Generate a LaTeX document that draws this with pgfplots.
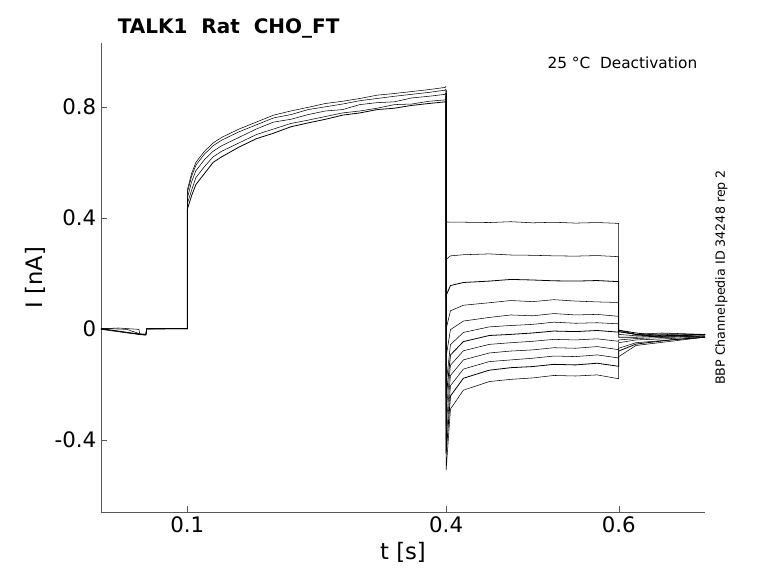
\documentclass[border=0pt]{standalone}
\usepackage{pgfplots}
\pgfplotsset{compat=1.18}
\usepackage{fontspec}
\setmainfont{DejaVu Sans}
\setsansfont{DejaVu Sans}
\begin{document}
\begin{tikzpicture}
\begin{axis}[name=ax, scale only axis, width=453pt, height=351.75pt,
  xmin=0, xmax=0.7, ymin=-0.66, ymax=1.03,
  axis lines=left, axis line style={-, gray!70!black}, tick style={gray!70!black},
  tick align=inside,
  /pgf/number format/assume math mode=true,
  xtick={0.1,0.4,0.6}, xticklabels={0.1,0.4,0.6},
  ytick={-0.4,0,0.4,0.8}, yticklabels={-0.4,0,0.4,0.8},
  tick label style={font=\fontsize{16}{18}\selectfont},
  xlabel={t [s]}, ylabel={I [nA]},
  label style={font=\fontsize{17}{19}\selectfont},
  cycle list={{black, solid, mark=none, line width=0.6pt}},
  clip=false]
% activation traces
\addplot coordinates {(0,0)(0.02,0.003)(0.044,-0.002)(0.045,-0.02)(0.052,-0.022)(0.053,0)(0.08,0.002)(0.1,0)(0.1,0.47)(0.105,0.53)(0.11,0.57)(0.12,0.61)(0.13,0.64)(0.14,0.66)(0.16,0.69)(0.18,0.72)(0.2,0.745)(0.22,0.755)(0.24,0.772)(0.26,0.785)(0.28,0.79)(0.3,0.808)(0.32,0.815)(0.34,0.818)(0.36,0.832)(0.38,0.838)(0.399,0.845)(0.4,0.85)};
\addplot coordinates {(0,0.002)(0.03,-0.002)(0.045,-0.018)(0.052,-0.02)(0.053,0.001)(0.1,0.001)(0.1,0.45)(0.105,0.5)(0.11,0.545)(0.12,0.585)(0.13,0.62)(0.14,0.64)(0.16,0.67)(0.18,0.7)(0.2,0.72)(0.22,0.74)(0.24,0.752)(0.26,0.765)(0.28,0.778)(0.3,0.785)(0.32,0.795)(0.34,0.808)(0.36,0.81)(0.38,0.82)(0.399,0.825)(0.4,0.83)};
\addplot coordinates {(0,-0.002)(0.045,-0.021)(0.052,-0.023)(0.053,-0.001)(0.1,0)(0.1,0.49)(0.105,0.55)(0.11,0.59)(0.12,0.63)(0.13,0.66)(0.14,0.68)(0.16,0.71)(0.18,0.735)(0.2,0.76)(0.22,0.772)(0.24,0.79)(0.26,0.8)(0.28,0.81)(0.3,0.822)(0.32,0.83)(0.34,0.838)(0.36,0.845)(0.38,0.852)(0.399,0.86)(0.4,0.865)};
\addplot coordinates {(0,0)(0.045,-0.019)(0.052,-0.02)(0.053,0)(0.1,0)(0.1,0.43)(0.105,0.48)(0.11,0.52)(0.12,0.56)(0.13,0.6)(0.14,0.62)(0.16,0.655)(0.18,0.685)(0.2,0.705)(0.22,0.728)(0.24,0.742)(0.26,0.755)(0.28,0.77)(0.3,0.778)(0.32,0.79)(0.34,0.795)(0.36,0.805)(0.38,0.812)(0.399,0.818)(0.4,0.82)};
\addplot coordinates {(0,0.001)(0.045,-0.02)(0.052,-0.02)(0.053,0)(0.1,0.002)(0.1,0.5)(0.105,0.56)(0.11,0.6)(0.12,0.64)(0.13,0.67)(0.14,0.69)(0.16,0.72)(0.18,0.745)(0.2,0.77)(0.22,0.785)(0.24,0.798)(0.26,0.812)(0.28,0.82)(0.3,0.83)(0.32,0.842)(0.34,0.848)(0.36,0.855)(0.38,0.862)(0.399,0.87)(0.4,0.875)};
% deactivation traces
\addplot coordinates {(0.4,0.85)(0.4,0.385)(0.45,0.383)(0.475,0.386)(0.5,0.382)(0.525,0.384)(0.55,0.381)(0.575,0.383)(0.6,0.38)(0.6,-0.01)(0.62,-0.02)(0.65,-0.015)(0.7,-0.02)};
\addplot coordinates {(0.4,0.85)(0.4,0.25)(0.405,0.263)(0.42,0.267)(0.45,0.27)(0.475,0.266)(0.5,0.265)(0.525,0.263)(0.55,0.262)(0.575,0.264)(0.6,0.26)(0.6,-0.01)(0.62,-0.02)(0.66,-0.018)(0.7,-0.022)};
\addplot coordinates {(0.4,0.84)(0.4,0.12)(0.405,0.156)(0.42,0.167)(0.45,0.172)(0.475,0.178)(0.5,0.176)(0.525,0.173)(0.55,0.172)(0.575,0.174)(0.6,0.17)(0.6,-0.005)(0.62,-0.015)(0.65,-0.025)(0.7,-0.02)};
\addplot coordinates {(0.4,0.83)(0.4,0.0)(0.405,0.065)(0.42,0.085)(0.45,0.094)(0.475,0.102)(0.5,0.098)(0.525,0.105)(0.55,0.1)(0.575,0.097)(0.6,0.095)(0.6,-0.005)(0.62,-0.02)(0.66,-0.03)(0.7,-0.025)};
\addplot coordinates {(0.4,0.86)(0.4,-0.1)(0.405,-0.003)(0.42,0.028)(0.45,0.041)(0.475,0.05)(0.5,0.047)(0.525,0.055)(0.55,0.05)(0.575,0.052)(0.6,0.045)(0.6,-0.01)(0.62,-0.02)(0.65,-0.03)(0.7,-0.02)};
\addplot coordinates {(0.4,0.84)(0.4,-0.2)(0.405,-0.057)(0.42,-0.013)(0.45,0.007)(0.475,0.012)(0.5,0.016)(0.525,0.024)(0.55,0.02)(0.575,0.022)(0.6,0.018)(0.6,-0.02)(0.62,-0.025)(0.66,-0.02)(0.7,-0.03)};
\addplot coordinates {(0.4,0.85)(0.4,-0.25)(0.405,-0.094)(0.42,-0.046)(0.45,-0.024)(0.475,-0.02)(0.5,-0.015)(0.525,-0.008)(0.55,-0.01)(0.575,-0.006)(0.6,-0.012)(0.6,-0.03)(0.62,-0.03)(0.66,-0.025)(0.7,-0.02)};
\addplot coordinates {(0.4,0.82)(0.4,-0.3)(0.405,-0.131)(0.42,-0.079)(0.45,-0.056)(0.475,-0.05)(0.5,-0.045)(0.525,-0.038)(0.55,-0.04)(0.575,-0.036)(0.6,-0.045)(0.6,-0.04)(0.62,-0.035)(0.66,-0.03)(0.7,-0.025)};
\addplot coordinates {(0.4,0.85)(0.4,-0.35)(0.405,-0.168)(0.42,-0.112)(0.45,-0.087)(0.475,-0.08)(0.5,-0.076)(0.525,-0.068)(0.55,-0.07)(0.575,-0.064)(0.6,-0.075)(0.6,-0.05)(0.62,-0.04)(0.66,-0.035)(0.7,-0.028)};
\addplot coordinates {(0.4,0.83)(0.4,-0.4)(0.405,-0.205)(0.42,-0.145)(0.45,-0.118)(0.475,-0.112)(0.5,-0.106)(0.525,-0.098)(0.55,-0.1)(0.575,-0.094)(0.6,-0.105)(0.6,-0.07)(0.62,-0.05)(0.66,-0.04)(0.7,-0.03)};
\addplot coordinates {(0.4,0.86)(0.4,-0.45)(0.405,-0.242)(0.42,-0.178)(0.45,-0.149)(0.475,-0.14)(0.5,-0.136)(0.525,-0.128)(0.55,-0.13)(0.575,-0.124)(0.6,-0.135)(0.6,-0.08)(0.62,-0.055)(0.66,-0.04)(0.7,-0.03)};
\addplot coordinates {(0.4,0.84)(0.4,-0.51)(0.405,-0.289)(0.42,-0.221)(0.45,-0.19)(0.475,-0.182)(0.5,-0.177)(0.525,-0.168)(0.55,-0.17)(0.575,-0.166)(0.6,-0.18)(0.6,-0.1)(0.62,-0.06)(0.66,-0.045)(0.7,-0.03)};
\node[anchor=south west, font=\bfseries\fontsize{15}{17}\selectfont] at (rel axis cs:0.02,1.0) {TALK1\ \ Rat\ \ CHO\_FT};
\node[anchor=north east, font=\fontsize{11.5}{13}\selectfont] at (rel axis cs:0.995,0.98) {25 °C\ \ Deactivation};
\node[rotate=90, anchor=south, font=\fontsize{9.5}{11}\selectfont] at (rel axis cs:1.045,0.5) {BBP Channelpedia ID 34248 rep 2};
\end{axis}
\path (ax.south west) ++(-75.75pt,-53.25pt) coordinate (p1);
\path (ax.north east) ++(54.75pt,32.25pt) coordinate (p2);
\pgfresetboundingbox
\path[use as bounding box] (p1) rectangle (p2);
\end{tikzpicture}
\end{document}
